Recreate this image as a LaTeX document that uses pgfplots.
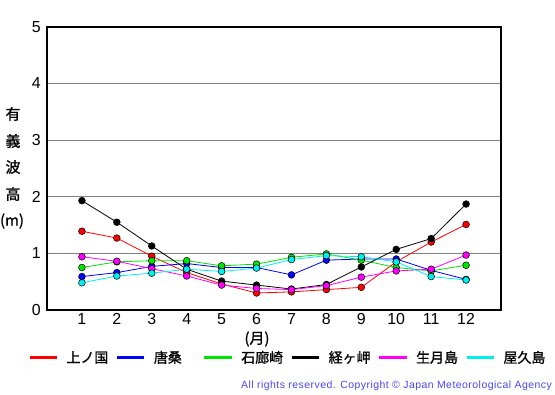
\documentclass[border=0pt]{standalone}
\usepackage{pgfplots}
\pgfplotsset{compat=1.18}
\usepackage{fontspec}
\setmainfont{Liberation Sans}
\newfontfamily\jp[FakeBold=1]{Noto Sans CJK JP}
\newfontfamily\cpr[LetterSpace=4.5]{Liberation Sans}
\definecolor{cpblue}{RGB}{70,70,255}
\definecolor{cgreen}{RGB}{0,230,0}
\definecolor{ccyan}{RGB}{0,240,240}
\definecolor{cmag}{RGB}{255,0,255}
\begin{document}
\begin{tikzpicture}
\path[use as bounding box] (0,0) rectangle (555bp,-395bp);
\fill[white] (0,0) rectangle (555bp,-395bp);
\begin{axis}[
  at={(47bp,-310bp)}, anchor=south west,
  scale only axis, width=454bp, height=283.3bp,
  xmin=0, xmax=13, ymin=0, ymax=5,
  xtick={1,...,12}, ytick={0,1,2,3,4,5},
  ymajorgrids, grid style={gray, line width=1bp},
  major tick length=0pt,
  axis line style={line width=2bp, black},
  /pgf/number format/assume math mode=true,
  tick label style={font=\fontsize{16}{16}\selectfont},
  yticklabel style={anchor=east, inner sep=0pt, xshift=-6bp},
  xticklabel style={anchor=north, inner sep=0pt, yshift=-3bp},
  clip=false,
  every axis plot/.append style={line width=0.8bp, mark=*, mark size=3.4bp},
  legend columns=6,
  legend style={at={(axis description cs:-0.0418,-0.168)}, anchor=west, draw=none, fill=none,
    inner sep=0pt, outer sep=0pt,
    font=\jp\fontsize{14}{14}\selectfont,
    nodes={inner sep=0pt, text width=42bp, align=left, anchor=west},
    /tikz/every odd column/.append style={column sep=8bp},
    /tikz/every even column/.append style={column sep=6.9bp}},
  legend image code/.code={\draw[#1, mark=none, line width=3bp] (0bp,0bp) -- (27.5bp,0bp);},
]
\addplot[color=red, mark options={draw=black, fill=red, line width=0.5bp}] coordinates {
(1,1.39) (2,1.27) (3,0.95) (4,0.66) (5,0.46) (6,0.30) (7,0.32) (8,0.36) (9,0.40) (10,0.85) (11,1.20) (12,1.51)};
\addlegendentry{上ノ国}
\addplot[color=blue, mark options={draw=black, fill=blue, line width=0.5bp}] coordinates {
(1,0.59) (2,0.66) (3,0.77) (4,0.82) (5,0.75) (6,0.75) (7,0.62) (8,0.88) (9,0.90) (10,0.90) (11,0.70) (12,0.54)};
\addlegendentry{唐桑}
\addplot[color=cgreen, mark options={draw=black, fill=cgreen, line width=0.5bp}] coordinates {
(1,0.75) (2,0.85) (3,0.87) (4,0.87) (5,0.78) (6,0.81) (7,0.93) (8,0.99) (9,0.88) (10,0.75) (11,0.69) (12,0.79)};
\addlegendentry{石廊崎}
\addplot[color=black, mark options={draw=black, fill=black, line width=0.5bp}] coordinates {
(1,1.93) (2,1.55) (3,1.13) (4,0.72) (5,0.51) (6,0.44) (7,0.37) (8,0.45) (9,0.76) (10,1.07) (11,1.26) (12,1.87)};
\addlegendentry{経ヶ岬}
\addplot[color=cmag, mark options={draw=black, fill=cmag, line width=0.5bp}] coordinates {
(1,0.94) (2,0.86) (3,0.73) (4,0.60) (5,0.44) (6,0.38) (7,0.36) (8,0.43) (9,0.58) (10,0.69) (11,0.72) (12,0.97)};
\addlegendentry{生月島}
\addplot[color=ccyan, mark options={draw=black, fill=ccyan, line width=0.5bp}] coordinates {
(1,0.48) (2,0.60) (3,0.65) (4,0.72) (5,0.68) (6,0.74) (7,0.89) (8,0.96) (9,0.94) (10,0.85) (11,0.59) (12,0.53)};
\addlegendentry{屋久島}
\end{axis}
\begin{scope}[every node/.style={font=\jp\fontsize{15}{15}\selectfont, inner sep=0pt}]
\node at (13bp,-114bp) {有};
\node at (13bp,-141bp) {義};
\node at (13bp,-167bp) {波};
\node at (13bp,-194bp) {高};
\node at (12bp,-221bp) {(m)};
\node at (257bp,-339bp) {(月)};
\end{scope}
\node[anchor=west, inner sep=0pt, text=cpblue, font=\cpr\fontsize{10.5}{11}\selectfont] at (241bp,-385.5bp) {All rights reserved. Copyright \textcopyright{} Japan Meteorological Agency};
\end{tikzpicture}
\end{document}
